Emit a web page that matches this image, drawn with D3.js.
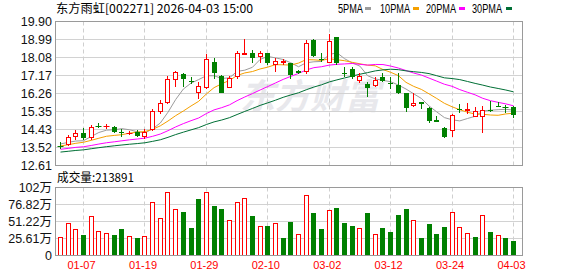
<!DOCTYPE html>
<html><head><meta charset="utf-8">
<script src="https://cdn.jsdelivr.net/npm/d3@7"></script>
<style>html,body{margin:0;padding:0;background:#fff;} svg{display:block;}</style>
</head><body><svg id="c" width="578" height="276"></svg>
<script>
const dates = ["12-31","01-05","01-06","01-07","01-08","01-09","01-12","01-13","01-14","01-15",
  "01-16","01-19","01-20","01-21","01-22","01-23","01-26","01-27","01-28","01-29",
  "01-30","02-02","02-03","02-04","02-05","02-06","02-09","02-10","02-11","02-12",
  "02-13","02-24","02-25","02-26","02-27","03-02","03-03","03-04","03-05","03-06",
  "03-09","03-10","03-11","03-12","03-13","03-16","03-17","03-18","03-19","03-20",
  "03-23","03-24","03-25","03-26","03-27","03-30","03-31","04-01","04-02","04-03"];
const open = [13.60,13.64,14.06,14.23,13.98,14.62,14.60,14.54,14.29,14.26,
  14.30,14.06,14.40,15.33,15.78,16.93,17.22,16.88,16.26,16.54,
  17.83,17.13,16.54,17.07,18.26,18.28,18.11,18.28,17.72,17.86,
  17.78,17.38,17.35,18.96,18.00,17.81,19.09,17.28,17.52,16.90,
  16.73,16.63,17.07,16.78,16.68,16.29,15.63,15.84,15.53,14.91,
  14.49,14.35,15.46,15.36,15.07,15.07,15.40,15.60,15.57,15.55];
const high = [13.80,14.15,14.40,14.49,14.65,14.74,14.70,14.62,14.44,14.37,
  14.40,14.44,15.45,15.92,17.13,17.40,17.27,17.07,16.85,18.25,
  18.03,17.18,17.13,18.42,19.00,18.48,18.42,18.33,18.03,17.98,
  17.81,17.46,18.96,18.99,18.28,19.29,19.12,17.61,17.61,17.27,
  16.85,17.07,17.27,17.07,17.27,16.29,16.26,15.84,15.58,15.11,
  14.57,15.24,15.72,15.75,15.55,15.62,15.87,15.84,15.65,15.62];
const low = [13.47,13.59,13.90,13.90,13.90,14.49,14.47,14.24,14.06,14.13,
  14.06,13.93,14.37,15.24,15.72,16.59,16.59,16.73,16.00,16.46,
  16.97,16.26,16.51,16.97,18.20,17.81,17.78,17.69,17.35,17.69,
  17.00,17.23,17.26,18.08,17.86,17.78,17.69,17.10,16.97,16.80,
  16.06,16.59,16.85,16.46,16.22,15.33,15.55,15.45,14.77,14.79,
  13.98,14.03,15.28,15.24,15.07,14.27,15.33,15.55,15.28,14.99];
const close = [13.58,14.03,14.23,13.98,14.57,14.60,14.62,14.32,14.27,14.28,
  14.10,14.32,15.36,15.75,17.00,17.32,16.97,16.86,16.65,17.98,
  17.30,16.29,17.02,18.28,18.29,18.03,18.28,17.78,17.91,17.88,
  17.19,17.29,18.79,18.15,17.97,18.92,17.78,17.26,17.10,17.13,
  16.51,16.96,16.90,16.76,16.29,15.50,15.75,15.72,14.86,14.79,
  14.06,15.19,15.44,15.46,15.36,15.40,15.38,15.58,15.55,15.16];
// volume in 万 shares
const volume = [28.5,49,40,31,59.5,37,34,31,40.5,29.5,
  27,29.5,80.5,56.5,95.5,70,66,41,84.5,96,
  74,69.5,54,81,87,59,45,45,49.5,26,
  51,33,91.5,64.5,39.5,69,71,48.5,45,42,
  64.5,33,41,36,61.5,69.5,54,26,48,33,
  43.5,66,43.5,34.5,28.5,61,36,31.5,26,21.39];
// closes of the 29 sessions before the window (feed the moving averages)
const priorCloses = [12.85,12.95,13.05,12.90,13.00,13.10,12.98,13.05,13.12,13.10,
  13.10,13.20,13.35,13.28,13.15,13.30,13.40,13.22,13.30,13.30,
  13.40,13.52,13.45,13.60,13.53,13.62,13.90,13.90,13.50];
const priceTicks = [12.61,13.52,14.43,15.35,16.26,17.17,18.08,18.99,19.90];
const priceTickLabels = ["12.61","13.52","14.43","15.35","16.26","17.17","18.08","18.99","19.90"];
const volTicks = [0,25.61,51.22,76.82,102.44];
const volTickLabels = ["0","25.61万","51.22万","76.82万","102万"];
const dateTicks = ["01-07","01-19","01-29","02-10","03-02","03-12","03-24","04-03"];
const maPeriods = [5,10,20,30];
const maNames = ["5PMA","10PMA","20PMA","30PMA"];
const titleText = "东方雨虹[002271] 2026-04-03 15:00";
const volTitle = "成交量:213891";

const RED = "#ff0000", GREEN = "#008000";
const maColors = ["#9c9c9c","#f5a000","#ff00ff","#006f35"];

const svg = d3.select("#c");
const pL = 55.5, pR = 522.5;
const x = d3.scalePoint().domain(dates).range([60.5, 513.5]);
const y = d3.scaleLinear().domain([12.61, 19.90]).range([165.5, 21.5]);
const yv = d3.scaleLinear().domain([0, 102.44]).range([255.5, 187.5]);
const px = v => Math.round(v - 0.5) + 0.5;

// watermark
svg.append("text").attr("x", 240).attr("y", 109)
  .attr("font-family", "Noto Sans CJK SC").attr("font-size", 35).attr("font-weight", "bold")
  .attr("font-style", "italic").attr("fill", "#e8e8ec").text("东方财富");

// horizontal grid
const g = svg.append("g");
priceTicks.slice(1, -1).forEach(t => {
  g.append("line").attr("x1", pL).attr("x2", pR).attr("y1", px(y(t))).attr("y2", px(y(t)))
    .attr("stroke", "#d2d2d2");
});
volTicks.slice(1, -1).forEach(t => {
  g.append("line").attr("x1", pL).attr("x2", pR).attr("y1", px(yv(t))).attr("y2", px(yv(t)))
    .attr("stroke", "#d2d2d2");
});
// vertical dashed grid
dateTicks.forEach(d => {
  const xx = px(x(d));
  g.append("line").attr("x1", xx).attr("x2", xx).attr("y1", y(19.90)).attr("y2", y(12.61))
    .attr("stroke", "#cfcfcf").attr("stroke-dasharray", "4,3");
  g.append("line").attr("x1", xx).attr("x2", xx).attr("y1", yv(102.44)).attr("y2", yv(0))
    .attr("stroke", "#cfcfcf").attr("stroke-dasharray", "4,3");
});

// moving averages
const all = priorCloses.concat(close);
const P = priorCloses.length;
maPeriods.forEach((p, k) => {
  const vals = close.map((c, i) => d3.mean(all.slice(P + i - p + 1, P + i + 1)));
  svg.append("path").datum(vals)
    .attr("d", d3.line().x((v, i) => x(dates[i])).y(v => y(v)))
    .attr("fill", "none").attr("stroke", maColors[k]).attr("stroke-width", 1);
});

// candles
const cg = svg.append("g");
dates.forEach((d, i) => {
  const o = open[i], c = close[i], up = c >= o;
  const col = up ? RED : GREEN;
  const cx = px(x(d));
  cg.append("line").attr("x1", cx).attr("x2", cx)
    .attr("y1", Math.round(y(high[i]))).attr("y2", Math.round(y(low[i])))
    .attr("stroke", col);
  const t = Math.round(y(Math.max(o, c))), b = Math.round(y(Math.min(o, c)));
  if (b - t < 1) {
    cg.append("line").attr("x1", cx - 3).attr("x2", cx + 3).attr("y1", t + 0.5).attr("y2", t + 0.5)
      .attr("stroke", col);
  } else if (up) {
    cg.append("rect").attr("x", cx - 2).attr("y", t + 0.5).attr("width", 5 - 1)
      .attr("height", Math.max(1, b - t - 1)).attr("fill", "#fff").attr("stroke", col);
  } else {
    cg.append("rect").attr("x", cx - 2.5).attr("y", t).attr("width", 5)
      .attr("height", b - t).attr("fill", col);
  }
});

// volume bars (colour by close vs previous close)
const vg = svg.append("g");
dates.forEach((d, i) => {
  const prev = i === 0 ? priorCloses[P - 1] : close[i - 1];
  const up = close[i] >= prev;
  const cx = px(x(d));
  const top = Math.round(yv(volume[i])), base = Math.round(yv(0));
  if (up) {
    vg.append("rect").attr("x", cx - 2).attr("y", top + 0.5).attr("width", 4)
      .attr("height", base - top - 1).attr("fill", "#fff").attr("stroke", RED);
  } else {
    vg.append("rect").attr("x", cx - 2.5).attr("y", top).attr("width", 5)
      .attr("height", base - top).attr("fill", GREEN);
  }
});

// borders
svg.append("rect").attr("x", pL).attr("y", y(19.90)).attr("width", pR - pL)
  .attr("height", y(12.61) - y(19.90)).attr("fill", "none").attr("stroke", "#9a9a9a");
svg.append("rect").attr("x", pL).attr("y", yv(102.44)).attr("width", pR - pL)
  .attr("height", yv(0) - yv(102.44)).attr("fill", "none").attr("stroke", "#9a9a9a");

// axis labels
const F = "'Liberation Sans', Arial, sans-serif";
priceTicks.forEach((t, k) => {
  svg.append("text").attr("x", 52).attr("y", y(t) + 4.5).attr("text-anchor", "end")
    .attr("font-family", F).attr("font-size", 12.5).attr("fill", "#111").text(priceTickLabels[k]);
});
volTicks.forEach((t, k) => {
  svg.append("text").attr("x", 52).attr("y", yv(t) + 4.5).attr("text-anchor", "end")
    .attr("font-family", "'Liberation Sans', 'Noto Sans CJK SC', sans-serif").attr("font-size", 12.5)
    .attr("fill", "#111").text(volTickLabels[k]);
});
dateTicks.forEach(d => {
  svg.append("text").attr("x", x(d) - 2).attr("y", 269).attr("text-anchor", "middle")
    .attr("font-family", F).attr("font-size", 11).attr("fill", RED).text(d);
});

// title
svg.append("text").attr("x", 56).attr("y", 12.5)
  .attr("font-family", "'Noto Sans CJK SC', sans-serif").attr("font-size", 12).attr("fill", "#000")
  .attr("textLength", 197).attr("lengthAdjust", "spacingAndGlyphs").text(titleText);
svg.append("text").attr("x", 57).attr("y", 182)
  .attr("font-family", "'Noto Sans CJK SC', sans-serif").attr("font-size", 12).attr("fill", "#000")
  .attr("textLength", 77).attr("lengthAdjust", "spacingAndGlyphs").text(volTitle);

// legend
const legX = [338, 380, 426, 472], legW = [25, 30, 30, 30], legSq = [365, 413, 459, 506];
maNames.forEach((n, k) => {
  svg.append("text").attr("x", legX[k]).attr("y", 13)
    .attr("font-family", F).attr("font-size", 12).attr("fill", "#000")
    .attr("textLength", legW[k]).attr("lengthAdjust", "spacingAndGlyphs").text(n);
  svg.append("rect").attr("x", legSq[k]).attr("y", 7).attr("width", 6).attr("height", 3)
    .attr("fill", maColors[k]);
});
</script></body></html>
